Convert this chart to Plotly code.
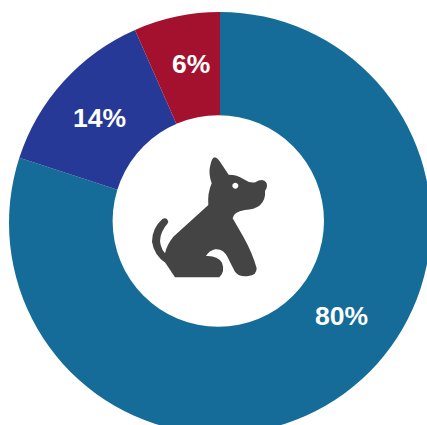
import re
import plotly.graph_objects as go

labels = ["Teal", "Blue", "Red"]
values = [80, 13.4, 6.6]
colors = ["#156C99", "#273996", "#A3112E"]
text_labels = ["80%", "14%", "6%"]

# pixel geometry of the page
RADIUS = 211
LEFT = 9
TOP = 12
label_px = [(341, 316), (99, 118), (191, 64)]
# the white disc sits slightly off the ring's centre in the reference
DISC = (218.3, 221, 105.7)

# dog outline, traced in px of a 3x crop starting at (130, 130)
DOG = (
    "M 255 82 Q 262 84 268 92 L 296 134 Q 322 134 340 147 Q 358 160 376 157 "
    "Q 386 150 396 150 Q 412 153 411 168 Q 410 177 405 182 Q 408 207 390 226 "
    "Q 372 240 345 240 Q 310 245 308 265 L 340 320 Q 368 370 380 415 "
    "Q 380 437 355 438 Q 328 442 315 425 Q 304 405 293 382 Q 280 355 255 358 "
    "Q 238 362 228 378 Q 262 376 276 398 Q 286 425 268 442 L 135 442 L 106 398 "
    "Q 72 375 66 335 Q 66 295 97 267 Q 110 260 115 275 Q 113 282 105 290 "
    "Q 85 320 92 345 Q 96 360 105 370 Q 110 345 130 320 L 235 225 "
    "Q 232 190 245 160 Q 235 130 240 110 Q 245 82 255 82 Z"
)


def paper_x(px):
    return (px - LEFT) / (2 * RADIUS)


def paper_y(py):
    return 1 - (py - TOP) / (2 * RADIUS)


def to_paper(path):
    # turns the crop coordinates into paper coordinates, pair by pair
    def pair(m):
        x = 130 + float(m.group(1)) / 3
        y = 130 + float(m.group(2)) / 3
        return f"{paper_x(x):.5f} {paper_y(y):.5f}"

    return re.sub(r"(-?[\d.]+) (-?[\d.]+)", pair, path)


def eye_path():
    cx, cy, r = 316, 167, 9
    k = 0.552 * r
    return (
        f"M {cx - r} {cy} C {cx - r} {cy - k} {cx - k} {cy - r} {cx} {cy - r} "
        f"C {cx + k} {cy - r} {cx + r} {cy - k} {cx + r} {cy} "
        f"C {cx + r} {cy + k} {cx + k} {cy + r} {cx} {cy + r} "
        f"C {cx - k} {cy + r} {cx - r} {cy + k} {cx - r} {cy} Z"
    )


fig = go.Figure(
    go.Pie(
        labels=labels,
        values=values,
        hole=0.48,
        sort=False,
        direction="clockwise",
        rotation=0,
        textinfo="none",
        marker={"colors": colors, "line": {"width": 0}},
        showlegend=False,
    )
)

for text, (x, y) in zip(text_labels, label_px):
    fig.add_annotation(
        x=paper_x(x),
        y=paper_y(y),
        xref="paper",
        yref="paper",
        xanchor="center",
        yanchor="middle",
        text=text,
        showarrow=False,
        font={"family": "Liberation Sans, Arial, sans-serif", "size": 26.5, "color": "white", "weight": 700},
    )

fig.add_shape(
    type="circle",
    xref="paper",
    yref="paper",
    x0=paper_x(DISC[0] - DISC[2]),
    x1=paper_x(DISC[0] + DISC[2]),
    y0=paper_y(DISC[1] + DISC[2]),
    y1=paper_y(DISC[1] - DISC[2]),
    fillcolor="white",
    line={"width": 0},
)
fig.add_shape(type="path", path=to_paper(DOG), xref="paper", yref="paper",
              fillcolor="#444444", line={"width": 0})
fig.add_shape(type="path", path=to_paper(eye_path()), xref="paper", yref="paper",
              fillcolor="white", line={"width": 0})

fig.update_layout(
    width=LEFT + 2 * RADIUS,
    height=TOP + 2 * RADIUS,
    autosize=False,
    margin={"l": LEFT, "r": 0, "t": TOP, "b": 0, "pad": 0},
    paper_bgcolor="white",
)

# the ring runs off the right and bottom of the window
fig.write_html(
    "out.html",
    config={"displayModeBar": False},
    post_script="document.documentElement.style.overflow='hidden';document.body.style.overflow='hidden';document.body.style.margin='0';",
)
